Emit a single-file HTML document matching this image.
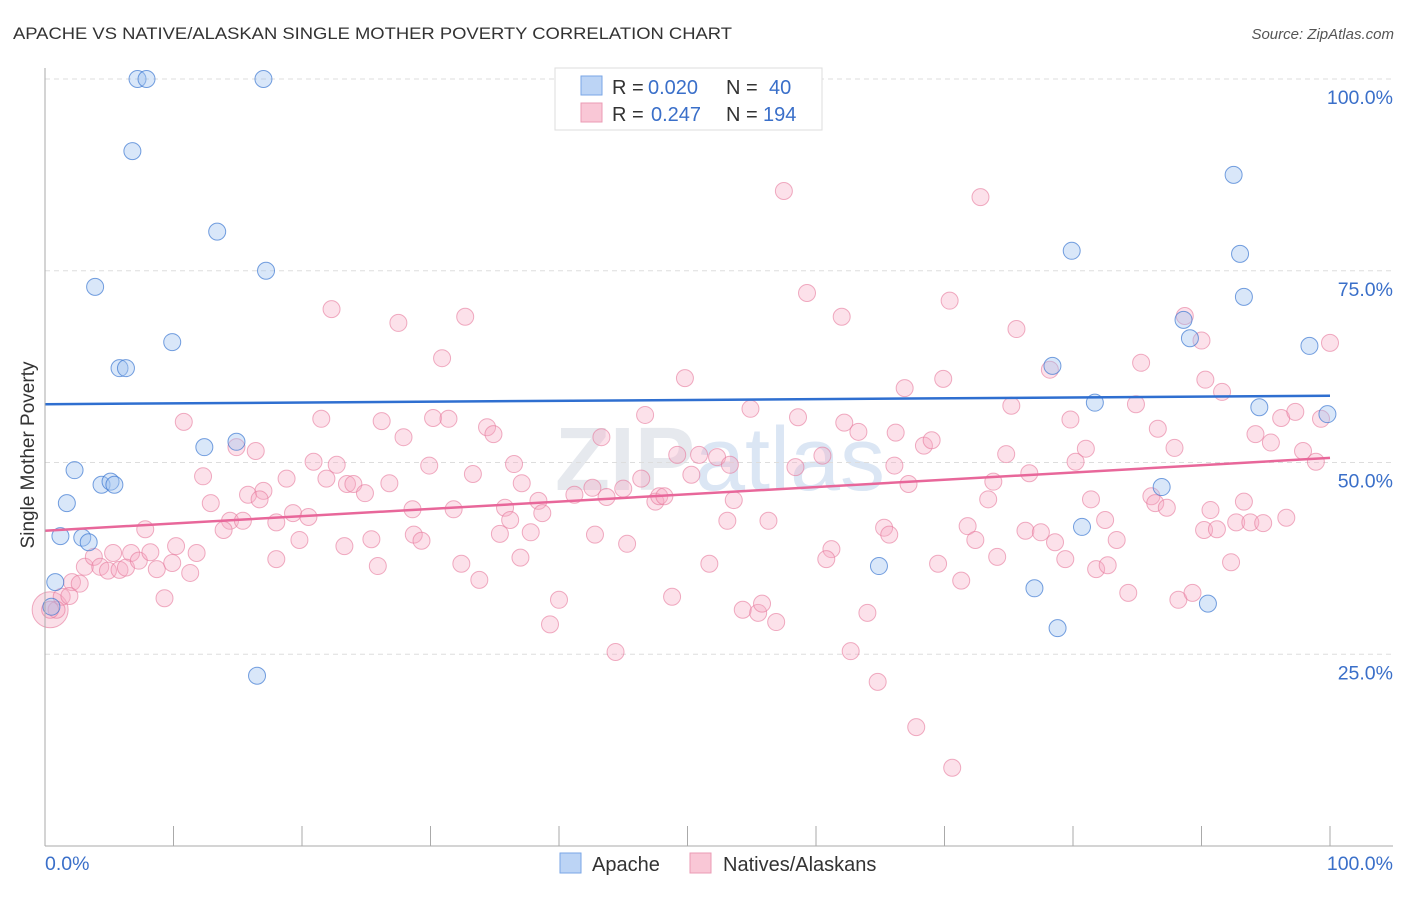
<!DOCTYPE html>
<html><head><meta charset="utf-8"><style>
body{margin:0;background:#fff;font-family:"Liberation Sans",sans-serif}
svg text{font-family:"Liberation Sans",sans-serif}
</style></head><body>
<svg id="c" width="1406" height="892" viewBox="0 0 1406 892" xmlns="http://www.w3.org/2000/svg">
<text x="13" y="39" font-size="17" fill="#333" textLength="719" lengthAdjust="spacingAndGlyphs">APACHE VS NATIVE/ALASKAN SINGLE MOTHER POVERTY CORRELATION CHART</text>
<text x="1394" y="39" font-size="15" fill="#555" text-anchor="end" font-style="italic">Source: ZipAtlas.com</text>
<text x="720" y="490" font-size="90" fill="#e6e9ee" text-anchor="middle" font-weight="bold">ZIP<tspan fill="#dbe6f4" font-weight="normal">atlas</tspan></text>
<g id="grid"></g>
<g id="pts"></g>
<g id="trend"></g>
<g id="axes"></g>
<text transform="translate(34,455) rotate(-90)" font-size="19" fill="#333" text-anchor="middle">Single Mother Poverty</text>
<g>
<rect x="555" y="68" width="267" height="62" fill="#fff" stroke="#ddd"/>
<rect x="581" y="76" width="21" height="19" fill="#bcd4f5" stroke="#7aa6e6"/>
<rect x="581" y="103" width="21" height="19" fill="#f9c7d6" stroke="#eb9bb4"/>
<text x="612" y="94" font-size="20" fill="#333">R =</text>
<text x="648" y="94" font-size="20" fill="#3a6fc9">0.020</text>
<text x="726" y="94" font-size="20" fill="#333">N =</text>
<text x="769" y="94" font-size="20" fill="#3a6fc9">40</text>
<text x="612" y="121" font-size="20" fill="#333">R =</text>
<text x="651" y="121" font-size="20" fill="#3a6fc9">0.247</text>
<text x="726" y="121" font-size="20" fill="#333">N =</text>
<text x="763" y="121" font-size="20" fill="#3a6fc9">194</text>
</g>
<g>
<rect x="560" y="853" width="21" height="20" fill="#bcd4f5" stroke="#7aa6e6"/>
<text x="592" y="871" font-size="20" fill="#333">Apache</text>
<rect x="690" y="853" width="21" height="20" fill="#f9c7d6" stroke="#eb9bb4"/>
<text x="723" y="871" font-size="20" fill="#333">Natives/Alaskans</text>
</g>
</svg>
<script>
const yTicks=[100,75,50,25];
const yTickLabels=["100.0%","75.0%","50.0%","25.0%"];
const xTicks=[0,10,20,30,40,50,60,70,80,90,100];
const xTickLabels=["0.0%","100.0%"];
const apacheX=[7.2,7.9,17.0,6.8,13.4,17.2,3.9,9.9,5.8,6.3,12.4,14.9,2.3,4.4,5.1,5.4,1.7,1.2,2.9,3.4,0.8,0.5,16.5,92.5,79.9,93.0,93.3,88.6,89.1,78.4,98.4,81.7,94.5,99.8,86.9,80.7,64.9,77.0,78.8,90.5];
const apacheY=[100,100,100,90.6,80.1,75.0,72.9,65.7,62.3,62.3,52.0,52.7,49.0,47.1,47.5,47.1,44.7,40.4,40.2,39.6,34.4,31.2,22.2,87.5,77.6,77.2,71.6,68.6,66.2,62.6,65.2,57.8,57.2,56.3,46.8,41.6,36.5,33.6,28.4,31.6];
const nativeX=[57.5,72.8,59.3,70.4,22.3,27.5,32.7,62.0,75.6,88.7,90.0,100,30.9,78.2,85.3,49.8,66.9,69.9,90.3,91.6,10.8,21.5,26.2,27.9,30.2,31.4,34.4,34.9,46.7,54.9,58.6,62.2,63.3,66.2,68.4,69.0,75.2,79.8,84.9,86.6,87.9,94.2,96.2,97.3,95.4,97.9,98.9,99.3,14.9,16.4,20.9,22.7,29.9,36.5,43.3,49.2,50.9,52.3,53.3,60.5,66.1,74.8,76.6,80.2,81.0,12.3,18.8,21.9,23.5,24.0,24.9,26.8,33.3,37.1,38.4,38.7,41.2,42.6,43.7,45.0,46.4,47.5,47.8,48.2,50.3,53.6,58.4,67.2,73.4,73.8,81.4,86.1,86.4,87.3,90.7,93.3,12.9,15.8,17.0,16.7,19.3,20.5,28.6,31.8,35.8,36.2,14.4,15.4,18.0,7.8,13.9,53.1,56.3,65.3,65.7,71.8,76.3,77.5,82.5,90.2,91.2,92.7,93.8,94.8,96.6,10.2,19.8,23.3,25.4,28.7,29.3,35.4,37.8,42.8,45.3,61.2,72.4,78.6,83.4,11.8,5.3,6.7,2.1,3.1,3.8,4.3,4.9,5.8,6.3,7.3,8.2,8.7,9.9,11.3,18.0,25.9,32.4,37.0,51.7,60.8,69.5,74.1,79.4,81.8,82.7,92.3,2.7,1.3,1.9,0.9,0.4,9.3,33.8,40.0,48.8,54.3,55.5,55.8,56.9,64.0,71.3,84.3,88.2,89.3,39.3,62.7,44.4,64.8,67.8,70.6];
const nativeY=[85.4,84.6,72.1,71.1,70.0,68.2,69.0,69.0,67.4,69.1,65.9,65.6,63.6,62.1,63.0,61.0,59.7,60.9,60.8,59.2,55.3,55.7,55.4,53.3,55.8,55.7,54.6,53.7,56.2,57.0,55.9,55.2,54.0,53.9,52.2,52.9,57.4,55.6,57.6,54.4,51.9,53.7,55.8,56.6,52.6,51.5,50.1,55.7,52.0,51.5,50.1,49.7,49.6,49.8,53.3,51.0,51.0,50.7,49.7,50.9,49.6,51.1,48.6,50.1,51.8,48.2,47.9,47.9,47.2,47.2,46.0,47.3,48.5,47.3,45.0,43.4,45.8,46.7,45.5,46.6,47.9,44.9,45.6,45.6,48.4,45.1,49.4,47.2,45.2,47.5,45.2,45.6,44.7,44.1,43.8,44.9,44.7,45.8,46.3,45.2,43.4,42.9,43.9,43.9,44.1,42.5,42.4,42.4,42.2,41.3,41.2,42.4,42.4,41.5,40.6,41.7,41.1,40.9,42.5,41.2,41.3,42.2,42.2,42.1,42.8,39.1,39.9,39.1,40.0,40.6,39.8,40.7,40.9,40.6,39.4,38.7,39.9,39.6,39.9,38.2,38.2,38.2,34.4,36.4,37.7,36.4,35.9,36.0,36.3,37.2,38.3,36.1,36.9,35.6,37.4,36.5,36.8,37.6,36.8,37.4,36.8,37.7,37.4,36.1,36.6,37.0,34.2,32.5,32.6,30.8,30.8,32.3,34.7,32.1,32.5,30.8,30.4,31.6,29.2,30.4,34.6,33.0,32.1,33.0,28.9,25.4,25.3,21.4,15.5,10.2];
const trendXs=[0,100];
const apacheTrendY=[57.6,58.7];
const nativeTrendY=[41.1,50.6];
const L=45,R=1330,T=79,B=846;
const sx=v=>L+(R-L)*v/100, sy=v=>B-(B-T)*v/100;
const NS="http://www.w3.org/2000/svg";
function mk(tag,attrs,parent){const e=document.createElementNS(NS,tag);for(const k in attrs)e.setAttribute(k,attrs[k]);parent.appendChild(e);return e;}
const grid=document.getElementById('grid'),axes=document.getElementById('axes'),pts=document.getElementById('pts'),tr=document.getElementById('trend');
yTicks.forEach((t,i)=>{
 const g=mk('line',{x1:L,x2:1393,y1:sy(t),y2:sy(t),stroke:'#ddd','stroke-dasharray':'5,4'},grid);
 
 
 const tx=mk('text',{x:1393,y:sy(t)+25,'font-size':19.5,fill:'#3a6fc9','text-anchor':'end'},axes);
 tx.textContent=yTickLabels[i];
 
 
});
const ya=mk('line',{x1:L,x2:L,y1:68,y2:B,stroke:'#aaa'},axes);


const xa=mk('line',{x1:L,x2:1393,y1:B,y2:B,stroke:'#aaa'},axes);


xTicks.forEach(t=>{
 const l=mk('line',{x1:sx(t),x2:sx(t),y1:826,y2:B,stroke:'#aaa'},axes);
 
 
});
const xl0=mk('text',{x:45,y:870,'font-size':19.5,fill:'#3a6fc9'},axes);
xl0.textContent=xTickLabels[0];


const xl1=mk('text',{x:1393,y:870,'font-size':19.5,fill:'#3a6fc9','text-anchor':'end'},axes);
xl1.textContent=xTickLabels[1];


const big1=mk('circle',{cx:sx(0.4),cy:sy(30.8),r:18,fill:'rgba(240,150,180,0.3)',stroke:'rgba(230,120,155,0.6)'},pts);


nativeX.forEach((x,i)=>{
 const c=mk('circle',{cx:sx(x),cy:sy(nativeY[i]),r:8.5,fill:'rgba(245,170,195,0.35)',stroke:'rgba(230,120,155,0.6)','stroke-width':1},pts);
 
 
});
apacheX.forEach((x,i)=>{
 const c=mk('circle',{cx:sx(x),cy:sy(apacheY[i]),r:8.5,fill:'rgba(160,195,240,0.4)',stroke:'rgba(60,120,210,0.7)','stroke-width':1},pts);
 
 
});
const t1=mk('line',{x1:sx(trendXs[0]),x2:sx(trendXs[1]),y1:sy(apacheTrendY[0]),y2:sy(apacheTrendY[1]),stroke:'#2f6fd0','stroke-width':2.5},tr);


const t2=mk('line',{x1:sx(trendXs[0]),x2:sx(trendXs[1]),y1:sy(nativeTrendY[0]),y2:sy(nativeTrendY[1]),stroke:'#e8679a','stroke-width':2.5},tr);


</script>
</body></html>
